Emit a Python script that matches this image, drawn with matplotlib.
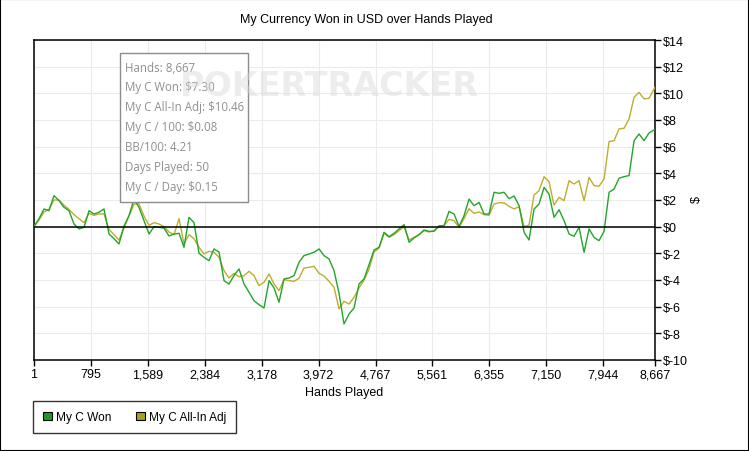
import matplotlib
matplotlib.use("Agg")
import matplotlib.pyplot as plt
from matplotlib.patches import Rectangle, Patch
from matplotlib.ticker import FuncFormatter

hands = [1, 71, 141, 210, 280, 350, 420, 489, 559, 629, 699, 769, 838, 908, 978,
         1048, 1117, 1187, 1257, 1327, 1397, 1466, 1536, 1606, 1676, 1746, 1815,
         1885, 1955, 2025, 2094, 2164, 2234, 2304, 2374, 2443, 2513, 2583, 2653,
         2722, 2792, 2862, 2932, 3002, 3071, 3141, 3211, 3281, 3351, 3420, 3490,
         3560, 3630, 3699, 3769, 3839, 3909, 3979, 4048, 4118, 4188, 4258, 4327,
         4397, 4467, 4537, 4607, 4676, 4746, 4816, 4886, 4955, 5025, 5095, 5165,
         5235, 5304, 5374, 5444, 5514, 5583, 5653, 5723, 5793, 5863, 5932, 6002,
         6072, 6142, 6212, 6281, 6351, 6421, 6491, 6560, 6630, 6700, 6770, 6840,
         6909, 6979, 7049, 7119, 7188, 7258, 7328, 7398, 7468, 7537, 7607, 7677,
         7747, 7816, 7886, 7956, 8026, 8096, 8165, 8235, 8305, 8375, 8444, 8514,
         8584, 8667]

won = [0.0, 0.6, 1.33, 1.2, 2.33, 1.95, 1.45, 1.2, 0.2, -0.17, -0.05, 1.2, 0.95,
       1.08, 1.33, -0.55, -0.9, -1.3, 0.05, 0.83, 2.08, 1.45, 0.45, -0.55, 0.0,
       -0.05, -0.1, -0.7, -0.55, -0.5, -1.55, 0.7, 0.3, -2.0, -2.3, -2.55, -1.67,
       -1.9, -4.05, -4.3, -3.67, -3.17, -4.3, -4.92, -5.55, -5.85, -6.1, -4.05,
       -4.6, -5.67, -3.92, -3.85, -3.67, -2.67, -2.17, -2.05, -1.92, -1.67, -2.17,
       -2.42, -3.3, -5.0, -7.3, -6.55, -6.1, -4.3, -3.92, -2.85, -1.75, -1.55,
       -0.42, -0.75, -0.5, -0.17, 0.15, -1.17, -0.85, -0.6, -0.25, -0.35, -0.35,
       0.07, 0.07, 1.15, 0.95, 0.02, 0.82, 2.07, 1.57, 1.82, 0.95, 0.95, 2.58, 2.5,
       2.58, 2.1, 2.3, 1.58, -0.42, -1.0, 1.32, 1.7, 2.95, 2.45, 0.7, 1.27, 0.45,
       -0.55, -0.72, -0.05, -1.92, -0.17, -0.8, -1.05, -0.35, 2.58, 2.83, 3.63,
       3.75, 3.83, 6.45, 6.95, 6.45, 7.03, 7.30]

allin = [0.0, 0.5, 1.1, 1.3, 2.0, 2.0, 1.6, 1.3, 0.9, 0.6, 0.3, 1.0, 0.85, 0.95,
         0.95, -0.2, -0.6, -1.0, -0.1, 0.8, 1.7, 1.7, 0.8, 0.1, 0.3, 0.2, 0.0,
         -0.4, -0.6, 0.6, -1.3, -0.6, -0.9, -1.55, -2.05, -1.85, -1.92, -2.3, -3.3,
         -3.85, -3.5, -3.75, -3.67, -3.35, -3.67, -4.42, -4.17, -3.55, -4.3, -4.8,
         -3.97, -4.05, -4.1, -3.87, -3.1, -3.05, -2.97, -3.5, -3.7, -4.1, -4.55,
         -6.17, -5.6, -5.8, -5.3, -4.6, -4.0, -3.2, -1.9, -1.6, -0.5, -0.8, -0.6,
         -0.3, 0.0, -1.0, -0.8, -0.6, -0.3, -0.4, -0.3, 0.0, 0.1, 0.55, 0.45,
         -0.05, 0.6, 1.35, 1.0, 1.1, 0.9, 0.85, 1.7, 1.8, 1.78, 1.53, 1.33, 1.5,
         0.0, 0.12, 2.37, 2.7, 3.75, 3.37, 1.62, 2.2, 1.95, 3.45, 3.2, 3.45, 1.95,
         3.7, 3.08, 3.03, 3.58, 6.38, 6.45, 7.33, 7.38, 8.08, 9.7, 10.08, 9.58,
         9.63, 10.46]

x_ticks = [1, 795, 1589, 2384, 3178, 3972, 4767, 5561, 6355, 7150, 7944, 8667]
y_ticks = [-10, -8, -6, -4, -2, 0, 2, 4, 6, 8, 10, 12, 14]
series_names = ["My C Won", "My C All-In Adj"]
tooltip_lines = ["Hands: 8,667", "My C Won: $7.30", "My C All-In Adj: $10.46",
                 "My C / 100: $0.08", "BB/100: 4.21", "Days Played: 50",
                 "My C / Day: $0.15"]

GREEN = "#24a42c"
OLIVE = "#bcae2e"
FONT = "Liberation Sans"

W, H = 749, 452
fig = plt.figure(figsize=(W / 100, H / 100), dpi=100)
fig.patch.set_facecolor("white")
ax = fig.add_axes([34 / W, 1 - 361 / H, 621 / W, 320 / H])

ax.plot(hands, allin, color=OLIVE, lw=1.0, zorder=3)
ax.plot(hands, won, color=GREEN, lw=1.0, zorder=4)
ax.axhline(0, color="black", lw=1.1, zorder=5)

ax.set_xlim(1, 8667)
ax.set_ylim(-10, 14)
ax.set_xticks(x_ticks)
ax.set_xticklabels([f"{t:,}" for t in x_ticks], fontfamily=FONT, fontsize=9)
ax.set_yticks(y_ticks)
ax.yaxis.set_major_formatter(FuncFormatter(lambda v, p: f"${int(v)}"))
ax.yaxis.tick_right()
ax.yaxis.set_label_position("right")
for lab in ax.get_yticklabels():
    lab.set_fontfamily(FONT)
    lab.set_fontsize(9)
ax.tick_params(axis="both", direction="out", length=4, width=1, color="black",
               labelcolor="black", pad=2)
ax.grid(True, color="#ebebeb", lw=0.8, zorder=0)
for s in ax.spines.values():
    s.set_color("black")
    s.set_linewidth(1.1)

ax.set_xlabel("Hands Played", fontfamily=FONT, fontsize=9, labelpad=4)
fig.text(697 / W, 1 - 200 / H, "$", rotation=90, fontfamily=FONT, fontsize=9,
         ha="center", va="center")
fig.text(366 / W, 1 - 20 / H, "My Currency Won in USD over Hands Played",
         fontfamily=FONT, fontsize=9, ha="center", va="center")

# tooltip box
fig.patches.append(Rectangle((120 / W, 1 - 203 / H), 128 / W, 149 / H,
                             transform=fig.transFigure, facecolor="white",
                             edgecolor="#8c8c8c", lw=1, zorder=10))
for k, line in enumerate(tooltip_lines):
    fig.text(125 / W, 1 - (68 + k * 19.9) / H, line, fontfamily="Open Sans",
             fontsize=8.3, color="#8f8f8f", ha="left", va="center", zorder=11)

# watermark (shows faintly through the tooltip, as in the original)
fig.text(180 / W, 1 - 87 / H, "POKERTRACKER", fontfamily="DejaVu Sans",
         fontweight="bold", fontsize=24, color="#d8d8d8", alpha=0.45,
         ha="left", va="center", zorder=12)

# legend
handles = [Patch(facecolor="#1f9a22", edgecolor="black", lw=0.8),
           Patch(facecolor="#a8a020", edgecolor="black", lw=0.8)]
leg = fig.legend(handles, series_names, loc="upper left",
                 bbox_to_anchor=(33 / W, 1 - 402 / H), ncol=2,
                 prop={"family": FONT, "size": 8.6}, frameon=True, fancybox=False,
                 edgecolor="black", handlelength=0.75, handleheight=0.75,
                 handletextpad=0.35, columnspacing=2.0, borderpad=0.85,
                 borderaxespad=0)
leg.get_frame().set_linewidth(1)

fig.patches.append(Rectangle((0, 0), 1, 1, transform=fig.transFigure,
                             fill=False, edgecolor="black", lw=1.5, zorder=20))

fig.savefig("out.png", dpi=100, facecolor="white")
